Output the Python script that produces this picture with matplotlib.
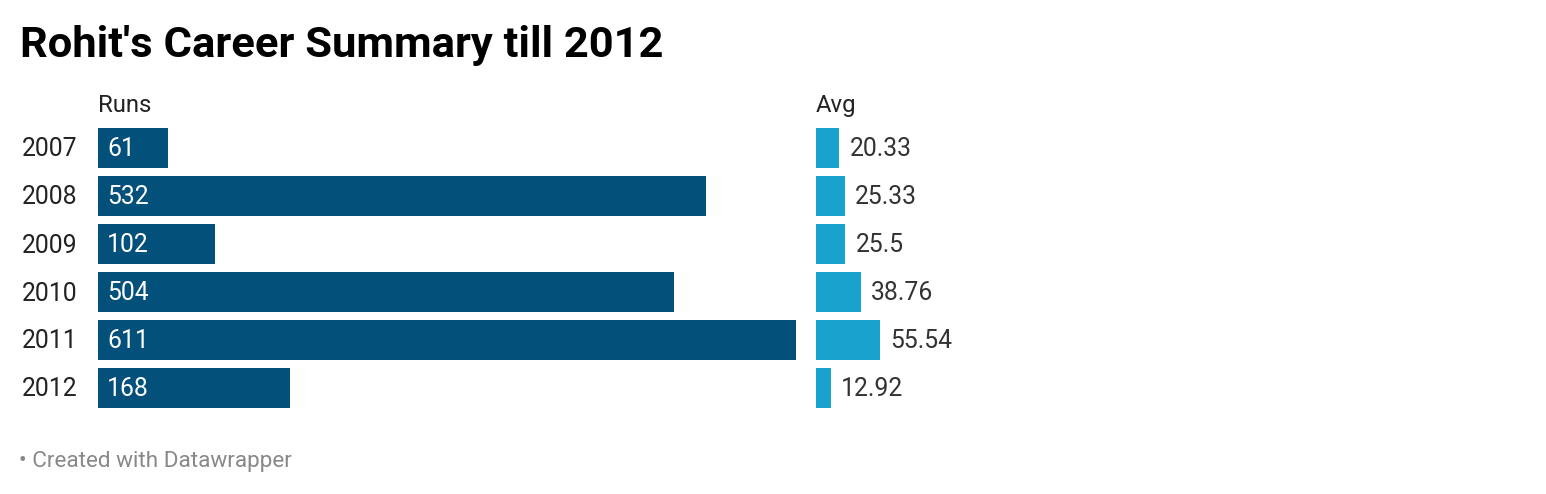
import matplotlib
matplotlib.use("Agg")
import matplotlib.pyplot as plt
import matplotlib.transforms as mtrans

years = ["2007", "2008", "2009", "2010", "2011", "2012"]
runs = [61, 532, 102, 504, 611, 168]
avg = [20.33, 25.33, 25.5, 38.76, 55.54, 12.92]
avg_labels = ["20.33", "25.33", "25.5", "38.76", "55.54", "12.92"]

plt.rcParams['font.family'] = ['Roboto', 'DejaVu Sans']

W, H = 1546, 494
fig = plt.figure(figsize=(W / 100, H / 100), dpi=100)
fig.patch.set_facecolor("white")

def px_axes(x0, x1, y0, y1):
    return fig.add_axes([x0 / W, 1 - y1 / H, (x1 - x0) / W, (y1 - y0) / H])

top, bottom = 128, 408
n = len(years)
pitch = (bottom - top + 8) / n  # 48
ax1 = px_axes(98, 796, top, bottom)
ax2 = px_axes(816, 880, top, bottom)

ypos = list(range(n))
bh = 40 / pitch
for ax in (ax1, ax2):
    ax.set_ylim(n - 1 + bh / 2, -bh / 2)
    ax.axis("off")

ax1.set_xlim(0, max(runs))
ax2.set_xlim(0, max(avg))

ax1.barh(ypos, runs, height=bh, color="#03507b")
ax2.barh(ypos, avg, height=bh, color="#18a2cd")

fs = 17.8
dy = -1.5 / 100
off1 = mtrans.ScaledTranslation(9 / 100, dy, fig.dpi_scale_trans)
for i, r in enumerate(runs):
    ax1.text(0, i, f"{r}", ha="left", va="center", color="white", fontsize=fs,
             transform=ax1.transData + off1)

off2 = mtrans.ScaledTranslation(10 / 100, dy, fig.dpi_scale_trans)
for i, (v, lab) in enumerate(zip(avg, avg_labels)):
    ax2.text(v, i, lab, ha="left", va="center", color="#333333", fontsize=fs,
             transform=ax2.transData + off2)

for i, y in enumerate(years):
    fig.text(21.5 / W, 1 - (top + 21.5 + i * pitch) / H, y, ha="left", va="center",
             color="#222222", fontsize=fs)

fig.text(98 / W, 1 - 105.5 / H, "Runs", ha="left", va="center", color="#222222", fontsize=17.2)
fig.text(816 / W, 1 - 105.5 / H, "Avg", ha="left", va="center", color="#222222", fontsize=17.2)

fig.text(20 / W, 1 - 46 / H, "Rohit's Career Summary till 2012", ha="left", va="center",
         color="black", fontsize=31.3, fontweight="bold")

fig.text(19 / W, 1 - 461 / H, "• Created with Datawrapper", ha="left", va="center",
         color="#888888", fontsize=16.2)

fig.savefig("out.png", dpi=100, facecolor="white")
